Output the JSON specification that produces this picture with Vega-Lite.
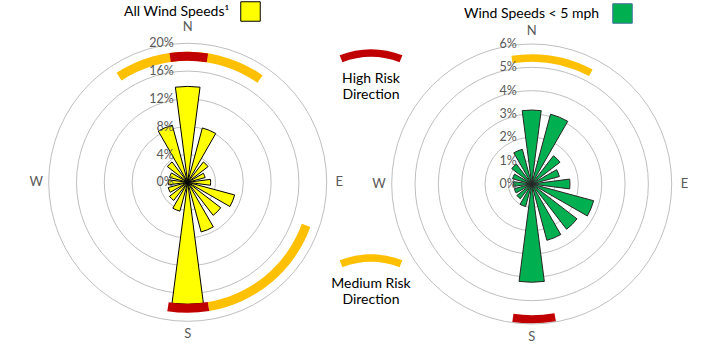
{
  "$schema": "https://vega.github.io/schema/vega-lite/v6.json",
  "width": 702,
  "height": 351,
  "padding": 0,
  "autosize": {"type": "none"},
  "config": {"view": {"stroke": null}, "font": "Lato", "text": {"font": "Lato"}},
  "datasets": {
    "all": [
      {"chart": "All", "series": "All Wind Speeds", "dir": 0, "freq": 0.138},
      {"chart": "All", "series": "All Wind Speeds", "dir": 22.5, "freq": 0.081},
      {"chart": "All", "series": "All Wind Speeds", "dir": 45, "freq": 0.037},
      {"chart": "All", "series": "All Wind Speeds", "dir": 67.5, "freq": 0.026},
      {"chart": "All", "series": "All Wind Speeds", "dir": 90, "freq": 0.033},
      {"chart": "All", "series": "All Wind Speeds", "dir": 112.5, "freq": 0.07},
      {"chart": "All", "series": "All Wind Speeds", "dir": 135, "freq": 0.06},
      {"chart": "All", "series": "All Wind Speeds", "dir": 157.5, "freq": 0.074},
      {"chart": "All", "series": "All Wind Speeds", "dir": 180, "freq": 0.1755},
      {"chart": "All", "series": "All Wind Speeds", "dir": 202.5, "freq": 0.043},
      {"chart": "All", "series": "All Wind Speeds", "dir": 225, "freq": 0.033},
      {"chart": "All", "series": "All Wind Speeds", "dir": 247.5, "freq": 0.029},
      {"chart": "All", "series": "All Wind Speeds", "dir": 270, "freq": 0.028},
      {"chart": "All", "series": "All Wind Speeds", "dir": 292.5, "freq": 0.027},
      {"chart": "All", "series": "All Wind Speeds", "dir": 315, "freq": 0.037},
      {"chart": "All", "series": "All Wind Speeds", "dir": 337.5, "freq": 0.085}
    ],
    "calm": [
      {"chart": "Calm", "series": "Wind Speeds < 5 mph", "dir": 0, "freq": 0.0317},
      {"chart": "Calm", "series": "Wind Speeds < 5 mph", "dir": 22.5, "freq": 0.031},
      {"chart": "Calm", "series": "Wind Speeds < 5 mph", "dir": 45, "freq": 0.0153},
      {"chart": "Calm", "series": "Wind Speeds < 5 mph", "dir": 67.5, "freq": 0.0123},
      {"chart": "Calm", "series": "Wind Speeds < 5 mph", "dir": 90, "freq": 0.0164},
      {"chart": "Calm", "series": "Wind Speeds < 5 mph", "dir": 112.5, "freq": 0.0275},
      {"chart": "Calm", "series": "Wind Speeds < 5 mph", "dir": 135, "freq": 0.0245},
      {"chart": "Calm", "series": "Wind Speeds < 5 mph", "dir": 157.5, "freq": 0.025},
      {"chart": "Calm", "series": "Wind Speeds < 5 mph", "dir": 180, "freq": 0.0421},
      {"chart": "Calm", "series": "Wind Speeds < 5 mph", "dir": 202.5, "freq": 0.01},
      {"chart": "Calm", "series": "Wind Speeds < 5 mph", "dir": 225, "freq": 0.008},
      {"chart": "Calm", "series": "Wind Speeds < 5 mph", "dir": 247.5, "freq": 0.0077},
      {"chart": "Calm", "series": "Wind Speeds < 5 mph", "dir": 270, "freq": 0.0079},
      {"chart": "Calm", "series": "Wind Speeds < 5 mph", "dir": 292.5, "freq": 0.0085},
      {"chart": "Calm", "series": "Wind Speeds < 5 mph", "dir": 315, "freq": 0.0108},
      {"chart": "Calm", "series": "Wind Speeds < 5 mph", "dir": 337.5, "freq": 0.0154}
    ],
    "ringsAll": [
      {"chart": "All", "ring": 0}, {"chart": "All", "ring": 0.04}, {"chart": "All", "ring": 0.08},
      {"chart": "All", "ring": 0.12}, {"chart": "All", "ring": 0.16}, {"chart": "All", "ring": 0.2}
    ],
    "ringsCalm": [
      {"chart": "Calm", "ring": 0}, {"chart": "Calm", "ring": 0.01}, {"chart": "Calm", "ring": 0.02},
      {"chart": "Calm", "ring": 0.03}, {"chart": "Calm", "ring": 0.04}, {"chart": "Calm", "ring": 0.05},
      {"chart": "Calm", "ring": 0.06}
    ],
    "riskAll": [
      {"chart": "All", "risk": "Medium Risk Direction", "from": -33, "to": 35},
      {"chart": "All", "risk": "Medium Risk Direction", "from": 110, "to": 170.5},
      {"chart": "All", "risk": "High Risk Direction", "from": -8, "to": 9},
      {"chart": "All", "risk": "High Risk Direction", "from": 170.5, "to": 189}
    ],
    "riskCalm": [
      {"chart": "Calm", "risk": "Medium Risk Direction", "from": -9, "to": 28},
      {"chart": "Calm", "risk": "High Risk Direction", "from": 170, "to": 188}
    ],
    "compassAll": [
      {"chart": "All", "label": "N", "dir": 0},
      {"chart": "All", "label": "E", "dir": 90},
      {"chart": "All", "label": "S", "dir": 180},
      {"chart": "All", "label": "W", "dir": 270}
    ],
    "compassCalm": [
      {"chart": "Calm", "label": "N", "dir": 0},
      {"chart": "Calm", "label": "E", "dir": 90},
      {"chart": "Calm", "label": "S", "dir": 180},
      {"chart": "Calm", "label": "W", "dir": 270}
    ]
  },
  "layer": [
    {
      "encoding": {
        "x": {"field": "chart", "type": "nominal", "scale": {"type": "point", "domain": ["All", "Calm"], "range": [187.7, 531.7], "padding": 0}, "axis": null},
        "y": {"field": "chart", "type": "nominal", "scale": {"type": "point", "domain": ["All", "Calm"], "range": [182.3, 184], "padding": 0}, "axis": null}
      },
      "layer": [
        {
          "data": {"name": "ringsAll"},
          "transform": [{"filter": "datum.ring > 0"}],
          "mark": {"type": "arc", "filled": false, "stroke": "#BFBFBF", "strokeWidth": 1},
          "encoding": {
            "theta": {"datum": 0, "scale": {"type": "linear", "domain": [0, 360], "range": [0, 6.283185307179586]}},
            "theta2": {"datum": 360},
            "radius": {"field": "ring", "type": "quantitative", "stack": null, "scale": {"type": "linear", "domain": [0, 0.2], "range": [0, 139], "zero": true}}
          }
        },
        {
          "data": {"name": "all"},
          "mark": {"type": "arc", "stroke": "black", "strokeWidth": 1, "thetaOffset": -0.129, "theta2Offset": 0.129},
          "encoding": {
            "theta": {"field": "dir", "type": "quantitative", "stack": null},
            "theta2": {"field": "dir"},
            "radius": {"field": "freq", "type": "quantitative", "stack": null},
            "fill": {
              "field": "series", "type": "nominal",
              "scale": {"domain": ["All Wind Speeds"], "range": ["#FFFF00"]},
              "legend": {
                "orient": "none", "legendX": 124, "legendY": 1,
                "title": "All Wind Speeds¹", "titleOrient": "left", "titleFontSize": 14,
                "titleFontWeight": "normal", "titleColor": "black", "titleFont": "Lato", "titlePadding": 10,
                "symbolType": "square", "symbolSize": 380, "symbolStrokeColor": "black", "symbolStrokeWidth": 1,
                "labelExpr": "''"
              }
            }
          }
        },
        {
          "data": {"name": "riskAll"},
          "mark": {"type": "arc", "stroke": null},
          "encoding": {
            "theta": {"field": "from", "type": "quantitative", "stack": null},
            "theta2": {"field": "to"},
            "radius": {"datum": 0.1878},
            "radius2": {"datum": 0.1748},
            "color": {
              "field": "risk", "type": "nominal",
              "scale": {"domain": ["High Risk Direction", "Medium Risk Direction"], "range": ["#C00000", "#FFC000"]},
              "legend": {
                "orient": "none", "legendX": 341, "legendY": 42, "title": null,
                "symbolType": "M-1.0457,-0.555A2.7917,2.7917,0,0,1,1.0457,-0.555L0.952,-0.3233A2.5417,2.5417,0,0,0,-0.952,-0.3233Z",
                "symbolSize": 3600, "symbolStrokeWidth": 0, "symbolOpacity": 1,
                "labelExpr": "[replace(datum.label, ' Direction', ''), 'Direction']",
                "labelAlign": "center", "labelBaseline": "top", "labelOffset": -30,
                "labelFontSize": 14, "labelColor": "black", "labelFont": "Lato", "rowPadding": 145
              }
            }
          }
        },
        {
          "data": {"name": "ringsAll"},
          "mark": {"type": "text", "align": "right", "baseline": "middle", "dx": -14, "fontSize": 12.5, "color": "#595959"},
          "encoding": {
            "theta": {"datum": 0},
            "radius": {"field": "ring", "type": "quantitative", "stack": null},
            "text": {"field": "ring", "type": "quantitative", "format": ".0%"}
          }
        },
        {
          "data": {"name": "compassAll"},
          "transform": [{"filter": "datum.label == 'N'"}],
          "mark": {"type": "text", "align": "center", "baseline": "middle", "fontSize": 13, "color": "#595959"},
          "encoding": {
            "theta": {"field": "dir", "type": "quantitative", "stack": null},
            "radius": {"datum": 0.224},
            "text": {"field": "label"}
          }
        },
        {
          "data": {"name": "compassAll"},
          "transform": [{"filter": "datum.label != 'N'"}],
          "mark": {"type": "text", "align": "center", "baseline": "middle", "fontSize": 13, "color": "#595959"},
          "encoding": {
            "theta": {"field": "dir", "type": "quantitative", "stack": null},
            "radius": {"datum": 0.218},
            "text": {"field": "label"}
          }
        }
      ]
    },
    {
      "encoding": {
        "x": {"field": "chart", "type": "nominal", "scale": {"type": "point", "domain": ["All", "Calm"], "range": [187.7, 531.7], "padding": 0}, "axis": null},
        "y": {"field": "chart", "type": "nominal", "scale": {"type": "point", "domain": ["All", "Calm"], "range": [182.3, 184], "padding": 0}, "axis": null}
      },
      "layer": [
        {
          "data": {"name": "ringsCalm"},
          "transform": [{"filter": "datum.ring > 0"}],
          "mark": {"type": "arc", "filled": false, "stroke": "#BFBFBF", "strokeWidth": 1},
          "encoding": {
            "theta": {"datum": 0, "scale": {"type": "linear", "domain": [0, 360], "range": [0, 6.283185307179586]}},
            "theta2": {"datum": 360},
            "radius": {"field": "ring", "type": "quantitative", "stack": null, "scale": {"type": "linear", "domain": [0, 0.06], "range": [0, 140], "zero": true}}
          }
        },
        {
          "data": {"name": "calm"},
          "mark": {"type": "arc", "stroke": "#262626", "strokeWidth": 1, "thetaOffset": -0.129, "theta2Offset": 0.129},
          "encoding": {
            "theta": {"field": "dir", "type": "quantitative", "stack": null},
            "theta2": {"field": "dir"},
            "radius": {"field": "freq", "type": "quantitative", "stack": null},
            "fill": {
              "field": "series", "type": "nominal",
              "scale": {"domain": ["Wind Speeds < 5 mph"], "range": ["#00B050"]},
              "legend": {
                "orient": "none", "legendX": 464, "legendY": 3,
                "title": "Wind Speeds < 5 mph", "titleOrient": "left", "titleFontSize": 14,
                "titleFontWeight": "normal", "titleColor": "black", "titleFont": "Lato", "titlePadding": 12,
                "symbolType": "square", "symbolSize": 380, "symbolStrokeColor": "#41719C", "symbolStrokeWidth": 1,
                "labelExpr": "''"
              }
            }
          }
        },
        {
          "data": {"name": "riskCalm"},
          "transform": [{"filter": "datum.risk == 'Medium Risk Direction'"}],
          "mark": {"type": "arc", "stroke": null},
          "encoding": {
            "theta": {"field": "from", "type": "quantitative", "stack": null},
            "theta2": {"field": "to"},
            "radius": {"datum": 0.0556},
            "radius2": {"datum": 0.0524},
            "color": {"field": "risk", "type": "nominal"}
          }
        },
        {
          "data": {"name": "riskCalm"},
          "transform": [{"filter": "datum.risk == 'High Risk Direction'"}],
          "mark": {"type": "arc", "stroke": null},
          "encoding": {
            "theta": {"field": "from", "type": "quantitative", "stack": null},
            "theta2": {"field": "to"},
            "radius": {"datum": 0.0597},
            "radius2": {"datum": 0.0562},
            "color": {"field": "risk", "type": "nominal"}
          }
        },
        {
          "data": {"name": "ringsCalm"},
          "mark": {"type": "text", "align": "right", "baseline": "middle", "dx": -15, "fontSize": 12.5, "color": "#595959"},
          "encoding": {
            "theta": {"datum": 0},
            "radius": {"field": "ring", "type": "quantitative", "stack": null},
            "text": {"field": "ring", "type": "quantitative", "format": ".0%"}
          }
        },
        {
          "data": {"name": "compassCalm"},
          "mark": {"type": "text", "align": "center", "baseline": "middle", "fontSize": 13, "color": "#595959"},
          "encoding": {
            "theta": {"field": "dir", "type": "quantitative", "stack": null},
            "radius": {"datum": 0.0655},
            "text": {"field": "label"}
          }
        }
      ]
    }
  ],
  "resolve": {"scale": {"radius": "independent", "fill": "independent"}, "legend": {"fill": "independent"}}
}
